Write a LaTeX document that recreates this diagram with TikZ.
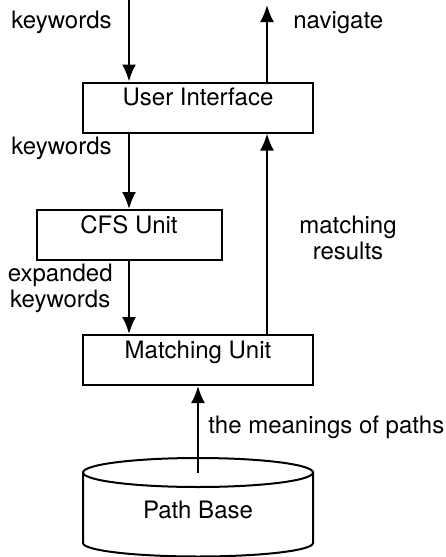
\documentclass[tikz,border=0pt]{standalone}
\usepackage{fontspec}
\setmainfont{TeX Gyre Heros}
\usetikzlibrary{arrows.meta,positioning}

\begin{document}
\begin{tikzpicture}[font=\fontsize{12}{13}\selectfont,
					unitbox/.style={rectangle,
					line width=1pt,
					inner xsep=0pt,
					inner ysep=0pt,
					text height=11.5pt,
					text depth=13.5pt,
					draw=black},
					flowlabel/.style={inner sep=0pt,
					align=center},
					flowarrow/.style={-{Latex[length=8.5pt,width=7pt]},
					line width=1.1pt}
					]

% fixed size of the whole figure
\useasboundingbox (0,0) rectangle (222.5pt,-278.5pt);

%unit nodes
\node[unitbox, minimum width=115pt] (ui) at (99pt,-53.75pt) {User Interface};
\node[unitbox, minimum width=92.5pt] (cfs) [below=37.75pt of ui, xshift=-34.5pt] {CFS Unit};
\node[unitbox, minimum width=115pt] (match) [below=100.25pt of ui] {Matching Unit};

%path base, drawn by hand
\coordinate (pbtop) at (99pt,-236.25pt);
\draw[line width=1pt] (pbtop) ellipse [x radius=57.5pt, y radius=7.25pt];
\draw[line width=1pt] ([xshift=-57.5pt]pbtop) -- ++(0,-35.25pt)
	arc [start angle=180, end angle=360, x radius=57.5pt, y radius=6.75pt] -- ++(0,35.25pt);
\node (pbase) at (99pt,-255pt) {Path Base};

% Arrows
\coordinate (kwin) at (64.5pt,0pt);
\coordinate (navout) at (133.5pt,-2.5pt);

\draw[flowarrow] (kwin) -- (kwin |- ui.north);
\draw[flowarrow] (cfs.north |- ui.south) -- (cfs.north);
\draw[flowarrow] (cfs.south) -- (cfs.south |- match.north);
\draw[flowarrow] (navout |- match.north) -- (navout |- ui.south);
\draw[flowarrow] (navout |- ui.north) -- (navout);
\draw[flowarrow] (pbtop) -- (match.south);

% labels
\node[flowlabel, anchor=east] (kwlab) at (56pt,-11pt) {keywords};
\node[flowlabel, anchor=west] (navlab) at (146.5pt,-11.5pt) {navigate};
\node[flowlabel, anchor=east] (kwlab2) at (56pt,-74pt) {keywords};
\node[flowlabel, anchor=east] (expkwlab) at (56.5pt,-144pt) {expanded\\keywords};
\node[flowlabel] (mreslab) at (174pt,-119pt) {matching\\results};
\node[flowlabel, anchor=west] (meanlab) at (104pt,-213.5pt) {the meanings of paths};

\end{tikzpicture}
\end{document}
